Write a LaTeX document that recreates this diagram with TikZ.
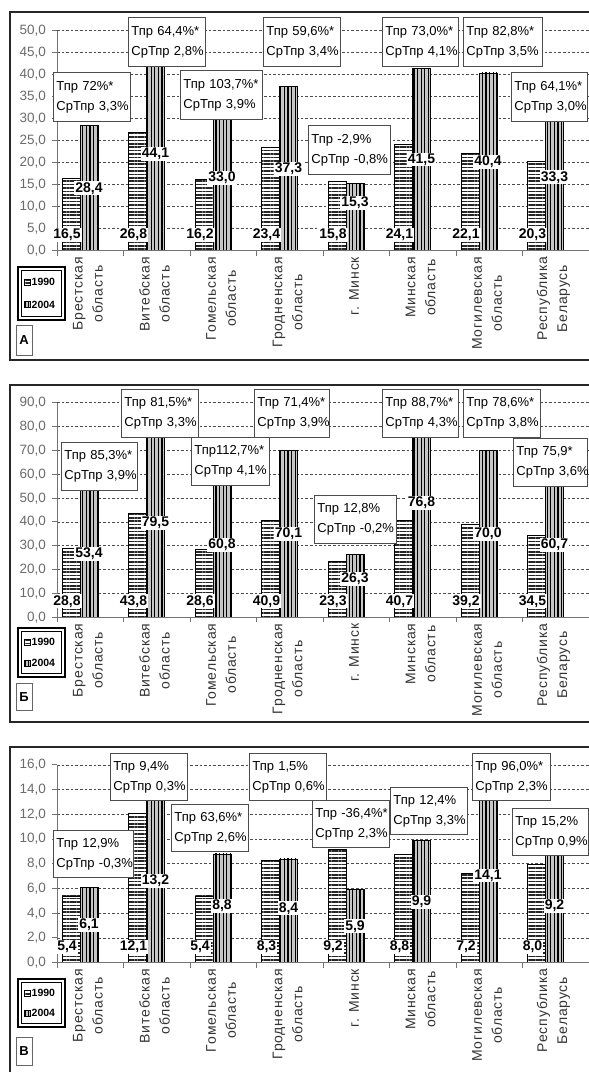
\documentclass[tikz,border=0pt]{standalone}
\usepackage{fontspec}
\setmainfont{Liberation Sans}
\usetikzlibrary{patterns.meta}
\definecolor{gridc}{gray}{0.3}
\definecolor{axc}{gray}{0.45}
\definecolor{tickc}{gray}{0.42}
\newcommand\numc[1]{\pgfmathprintnumber[fixed,fixed zerofill,precision=1,use comma,assume math mode=true]{#1}}
\tikzset{
  grid line/.style={gridc, line width=0.9pt, dash pattern=on 2.6pt off 2pt},
  axis line/.style={axc, line width=1pt},
  frame line/.style={black!85, line width=2pt},
  bar a/.style={preaction={fill=white}, pattern={Lines[angle=0,distance=3.4pt,line width=1.5pt]}, pattern color=black!85, draw=black, line width=0.6pt},
  bar b/.style={preaction={fill=gray!45}, pattern={Lines[angle=90,distance=3.6pt,line width=1.2pt]}, pattern color=black, draw=black, line width=0.6pt},
  ticklab/.style={text=tickc, font=\fontsize{13.5}{15}\selectfont, inner sep=0pt, anchor=east},
  vlab/.style={fill=white, inner sep=1pt, font=\fontsize{14}{16}\selectfont\bfseries},
  catlab/.style={rotate=90, anchor=east, align=center, inner sep=0pt, text=black!80, font=\fontsize{14}{20}\selectfont\addfontfeature{LetterSpace=6}},
  annot/.style={draw=black!70, line width=0.8pt, fill=white, anchor=north west, inner xsep=3pt, inner ysep=0pt, align=left, font=\fontsize{13}{20}\selectfont},
  legt/.style={font=\fontsize{10.5}{12}\selectfont\bfseries, inner sep=0pt, anchor=west},
  letterbox/.style={draw=black!60, line width=0.8pt, minimum width=16pt, inner sep=0pt, font=\fontsize{13}{15}\selectfont\bfseries},
}
% common parts of a panel
\newcommand\PanelAxes{%
  \pgfmathsetmacro\Nst{int(round(\PM/\PD))}
  \foreach \k in {1,...,\Nst}{
    \pgfmathsetmacro\yy{\PY-\k*\PD*\PS}
    \draw[grid line] (57,\yy) -- (589,\yy);
  }
  \foreach \k in {0,...,\Nst}{
    \pgfmathsetmacro\yy{\PY-\k*\PD*\PS}
    \pgfmathsetmacro\vv{\k*\PD}
    \draw[axis line] (52,\yy) -- (57,\yy);
    \node[ticklab] (\PN tl\k) at (46,\yy) {\numc{\vv}};
  }
  \foreach \k in {0,...,8}{
    \draw[axis line] (57+\k*66.5,\PY) -- (57+\k*66.5,\PY+5);
  }
  \foreach \a/\b/\c [count=\i] in \PBars {
    \pgfmathsetmacro\xl{57+(\i-1)*66.5}
    \path[bar a] (\xl+5,\PY) rectangle (\xl+23,\PY-\a*\PS);
    \path[bar b] (\xl+23,\PY) rectangle (\xl+41,\PY-\b*\PS);
  }
  \draw[axis line] (57,\PY) -- (57,\PY-\PM*\PS);
  \draw[axis line] (57,\PY) -- (589,\PY);
  \foreach \a/\b/\c [count=\i] in \PBars {
    \pgfmathsetmacro\xl{57+(\i-1)*66.5}
    \node[vlab] (\PN a\i) at (\xl+10,\PY-16) {\numc{\a}};
    \node[vlab] (\PN b\i) at (\xl+32,\PY-\c*\PS) {\numc{\b}};
  }
  \foreach \t [count=\i] in {{Брестская\\область},{Витебская\\область},{Гомельская\\область},{Гродненская\\область},{г. Минск},{Минская\\область},{Могилевская\\область},{Республика\\Беларусь}}{
    \node[catlab] (\PN c\i) at (57+\i*66.5-35.5,\PY+6) {\t};
  }
  \foreach \x/\y/\w/\l/\m [count=\i] in \PBoxes {
    \pgfmathsetmacro\tw{\w-6}
    \node[annot, text width=\tw pt, minimum height=\PH pt] (\PN box\i) at (\x,\y) {\mbox{\l}\\\mbox{\m}};
  }
  % legend
  \draw[line width=1.8pt] (18,\LT) rectangle (65,\LT+\LH);
  \draw[line width=0.6pt] (21.5,\LT+3.5) rectangle (61.5,\LT+\LH-3.5);
  \path[bar a, line width=0.4pt] (24,\LT+\LH*0.29-3) rectangle (30,\LT+\LH*0.29+3);
  \node[legt] (\PN leg1) at (31.5,\LT+\LH*0.29) {1990};
  \path[bar b, line width=0.4pt] (24,\LT+\LH*0.71-3) rectangle (30,\LT+\LH*0.71+3);
  \node[legt] (\PN leg2) at (31.5,\LT+\LH*0.71) {2004};
  \node[letterbox, minimum height=\LBH pt] (\PN let) at (24,\LB) {\PL};
}
\begin{document}
\begin{tikzpicture}[x=1pt,y=-1pt]
\useasboundingbox (0,0) rectangle (589,1072);
\fill[white] (0,0) rectangle (589,1072);
% ---------------- Panel A ----------------
\def\PN{pa}\def\PY{250.7}\def\PS{4.4}\def\PM{50}\def\PD{5}\def\PH{49}
\def\LT{267}\def\LH{53}\def\LB{340}\def\LBH{30}\def\PL{А}
\def\PBars{16.5/28.4/14.2, 26.8/44.1/22.05, 16.2/33.0/16.5, 23.4/37.3/18.65, 15.8/15.3/10.8, 24.1/41.5/20.75, 22.1/40.4/20.2, 20.3/33.3/16.65}
\def\PBoxes{53/72/77/{Тпр 72\%*}/{СрТпр 3,3\%}, 128/17/77/{Тпр 64,4\%*}/{СрТпр 2,8\%}, 180/70/82/{Тпр 103,7\%*}/{СрТпр 3,9\%}, 263/17/77/{Тпр 59,6\%*}/{СрТпр 3,4\%}, 308/125/82/{Тпр -2,9\%}/{СрТпр -0,8\%}, 382/17/76/{Тпр 73,0\%*}/{СрТпр 4,1\%}, 463/17/79/{Тпр 82,8\%*}/{СрТпр 3,5\%}, 511/72/76/{Тпр 64,1\%*}/{СрТпр 3,0\%}}
\PanelAxes
\draw[frame line] (589,12) -- (9.5,12) -- (9.5,360) -- (589,360);
% ---------------- Panel Б ----------------
\def\PN{pb}\def\PY{617.3}\def\PS{2.383}\def\PM{90}\def\PD{10}\def\PH{48}
\def\LT{628}\def\LH{49}\def\LB{697}\def\LBH{27}\def\PL{Б}
\def\PBars{28.8/53.4/26.7, 43.8/79.5/39.75, 28.6/60.8/30.4, 40.9/70.1/35.05, 23.3/26.3/16, 40.7/76.8/48, 39.2/70.0/35, 34.5/60.7/30.35}
\def\PBoxes{61/442/76/{Тпр 85,3\%*}/{СрТпр 3,9\%}, 121/389/77/{Тпр 81,5\%*}/{СрТпр 3,3\%}, 191/437/78/{Тпр112,7\%*}/{СрТпр 4,1\%}, 254/389/75/{Тпр 71,4\%*}/{СрТпр 3,9\%}, 314/495/82/{Тпр 12,8\%}/{СрТпр -0,2\%}, 382/389/76/{Тпр 88,7\%*}/{СрТпр 4,3\%}, 463/389/77/{Тпр 78,6\%*}/{СрТпр 3,8\%}, 513/438/74/{Тпр 75,9*}/{СрТпр 3,6\%}}
\PanelAxes
\draw[frame line] (589,385) -- (9.5,385) -- (9.5,722) -- (589,722);
% ---------------- Panel В ----------------
\def\PN{pc}\def\PY{962.7}\def\PS{12.36}\def\PM{16}\def\PD{2}\def\PH{47}
\def\LT{979}\def\LH{48}\def\LB{1051}\def\LBH{28}\def\PL{В}
\def\PBars{5.4/6.1/3.05, 12.1/13.2/6.6, 5.4/8.8/4.6, 8.3/8.4/4.4, 9.2/5.9/2.95, 8.8/9.9/4.95, 7.2/14.1/7.05, 8.0/9.2/4.6}
\def\PBoxes{53/830/80/{Тпр 12,9\%}/{СрТпр -0,3\%}, 110/753/77/{Тпр 9,4\%}/{СрТпр 0,3\%}, 171/804/77/{Тпр 63,6\%*}/{СрТпр 2,6\%}, 249/753/77/{Тпр 1,5\%}/{СрТпр 0,6\%}, 312/800/77/{Тпр -36,4\%*}/{СрТпр 2,3\%}, 390/787/77/{Тпр 12,4\%}/{СрТпр 3,3\%}, 472/753/78/{Тпр 96,0\%*}/{СрТпр 2,3\%}, 512/808/76/{Тпр 15,2\%}/{СрТпр 0,9\%}}
\PanelAxes
\draw[frame line] (589,747) -- (9.5,747) -- (9.5,1080);
\end{tikzpicture}
\end{document}
